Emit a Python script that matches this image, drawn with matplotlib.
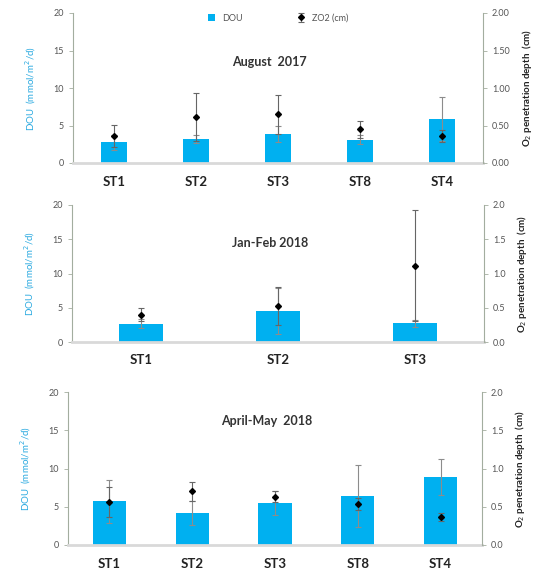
import matplotlib.pyplot as plt
import numpy as np

plt.rcParams['font.family'] = ['Lato', 'DejaVu Sans']

# panel 1 - August 2017
cats1 = ['ST1', 'ST2', 'ST3', 'ST8', 'ST4']
dou1 = [2.8, 3.2, 3.9, 3.1, 5.9]
dou1_err = [1.0, 0.5, 1.1, 0.6, 2.9]
zo1 = [0.36, 0.61, 0.65, 0.45, 0.36]
zo1_err = [0.15, 0.32, 0.26, 0.11, 0.08]

# panel 2 - Jan-Feb 2018
cats2 = ['ST1', 'ST2', 'ST3']
dou2 = [2.7, 4.5, 2.75]
dou2_err = [0.7, 3.4, 0.5]
zo2 = [0.40, 0.53, 1.11]
zo2_err = [0.10, 0.28, 0.81]

# panel 3 - April-May 2018
cats3 = ['ST1', 'ST2', 'ST3', 'ST8', 'ST4']
dou3 = [5.7, 4.2, 5.5, 6.4, 8.9]
dou3_err = [2.8, 1.6, 1.6, 4.0, 2.4]
zo3 = [0.56, 0.70, 0.63, 0.54, 0.37]
zo3_err = [0.20, 0.12, 0.07, 0.08, 0.05]

titles = ['August  2017', 'Jan-Feb 2018', 'April-May  2018']

BLUE = '#00B0F0'
SPINE = '#a3ad9f'
W, H = 535, 576

fig = plt.figure(figsize=(W / 100, H / 100), dpi=100)


def panel(rect, cats, dou, dou_err, zo, zo_err, title, bw, rfmt, title_y, show_legend=False):
    l, t, r, b = rect
    ax = fig.add_axes([l / W, 1 - b / H, (r - l) / W, (b - t) / H])
    x = np.arange(len(cats))
    ax.bar(x, dou, width=bw, color=BLUE, zorder=2, label='DOU')
    ax.errorbar(x, dou, yerr=dou_err, fmt='none', ecolor='#8c8c8c', elinewidth=0.8,
                capsize=2.5, capthick=0.8, zorder=3)
    ax.set_xlim(-0.5, len(cats) - 0.5)
    ax.set_ylim(0, 20)
    ax.set_yticks([0, 5, 10, 15, 20])
    ax.set_xticks(x)
    ax.set_xticklabels(cats, fontsize=9.5, fontweight='bold', color='#222222')
    ax.tick_params(axis='x', length=0, pad=9)
    ax.tick_params(axis='y', labelsize=6.5, colors='#555555', length=3, width=0.6, color=SPINE)
    ax.spines['top'].set_visible(False)
    ax.spines['right'].set_visible(False)
    ax.spines['left'].set_color(SPINE)
    ax.spines['bottom'].set_color('#d9d9d9')
    ax.spines['bottom'].set_linewidth(2)
    ax.set_ylabel('DOU  (mmol/m$^2$/d)', color='#29a9e0', fontsize=7, labelpad=11)

    ax2 = ax.twinx()
    ax2.errorbar(x, zo, yerr=zo_err, fmt='D', color='black', markersize=3,
                 ecolor='#666666', elinewidth=0.8, capsize=2.5, capthick=0.8,
                 zorder=4, label='ZO2 (cm)')
    ax2.set_ylim(0, 2)
    ax2.set_yticks([0, 0.5, 1.0, 1.5, 2.0])
    ax2.set_yticklabels([rfmt.format(v) for v in [0, 0.5, 1.0, 1.5, 2.0]])
    ax2.tick_params(axis='y', labelsize=6.5, colors='#555555', length=3, width=0.6, color=SPINE)
    for s in ['top', 'left', 'bottom']:
        ax2.spines[s].set_visible(False)
    ax2.spines['right'].set_color(SPINE)
    ax2.set_ylabel('O$_2$ penetration depth  (cm)', fontsize=7, fontweight='bold',
                   color='#222222', labelpad=7)

    ax.text(0.48, title_y, title, transform=ax.transAxes, ha='center', va='center',
            fontsize=9, fontweight='bold', color='#333333')

    if show_legend:
        h1, l1 = ax.get_legend_handles_labels()
        h2, l2 = ax2.get_legend_handles_labels()
        ax.legend(h1 + h2, l1 + l2, loc='upper center', bbox_to_anchor=(0.5, 1.05),
                  ncol=2, frameon=False, fontsize=6.5, handlelength=0.8,
                  handleheight=0.8, columnspacing=6, labelcolor='#555555')
    return ax


panel((73, 13, 483, 163), cats1, dou1, dou1_err, zo1, zo1_err, titles[0], 0.32,
      '{:.2f}', 0.67, show_legend=True)
panel((72, 205, 484, 342), cats2, dou2, dou2_err, zo2, zo2_err, titles[1], 0.32,
      '{:.1f}', 0.72)
panel((68, 392, 482, 545), cats3, dou3, dou3_err, zo3, zo3_err, titles[2], 0.40,
      '{:.1f}', 0.81)

fig.savefig('out.png', dpi=100)
